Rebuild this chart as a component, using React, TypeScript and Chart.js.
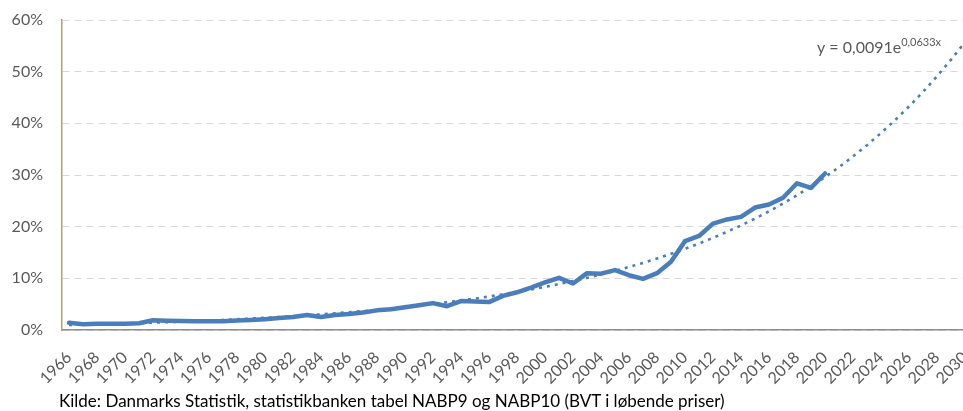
import React, { useEffect, useRef } from "react";
import { Chart, registerables } from "chart.js";

Chart.register(...registerables);

const years = [
  "1966", "1967", "1968", "1969", "1970", "1971", "1972", "1973", "1974", "1975",
  "1976", "1977", "1978", "1979", "1980", "1981", "1982", "1983", "1984", "1985",
  "1986", "1987", "1988", "1989", "1990", "1991", "1992", "1993", "1994", "1995",
  "1996", "1997", "1998", "1999", "2000", "2001", "2002", "2003", "2004", "2005",
  "2006", "2007", "2008", "2009", "2010", "2011", "2012", "2013", "2014", "2015",
  "2016", "2017", "2018", "2019", "2020", "2021", "2022", "2023", "2024", "2025",
  "2026", "2027", "2028", "2029", "2030",
];

// Andel (%) 1966-2020
const shareValues = [
  1.4, 1.1, 1.2, 1.2, 1.2, 1.3, 1.9, 1.8, 1.75, 1.7,
  1.7, 1.7, 1.85, 1.95, 2.1, 2.3, 2.5, 2.9, 2.5, 2.9,
  3.1, 3.4, 3.8, 4.0, 4.4, 4.8, 5.2, 4.6, 5.6, 5.5,
  5.4, 6.6, 7.3, 8.2, 9.2, 10.1, 9.0, 11.0, 10.9, 11.6,
  10.6, 9.9, 11.0, 13.2, 17.2, 18.2, 20.6, 21.4, 21.9, 23.7,
  24.3, 25.6, 28.4, 27.5, 30.3,
];

// Eksponentiel trendlinje (%) 1966-2030
const trendValues = [
  0.97, 1.03, 1.1, 1.17, 1.25, 1.33, 1.42, 1.51, 1.61, 1.71,
  1.83, 1.95, 2.07, 2.21, 2.35, 2.51, 2.67, 2.84, 3.03, 3.23,
  3.44, 3.66, 3.9, 4.16, 4.43, 4.72, 5.03, 5.36, 5.71, 6.08,
  6.48, 6.9, 7.35, 7.83, 8.34, 8.89, 9.47, 10.09, 10.74, 11.45,
  12.2, 12.99, 13.84, 14.75, 15.71, 16.74, 17.83, 19.0, 20.24, 21.56,
  22.97, 24.47, 26.07, 27.78, 29.59, 31.52, 33.59, 35.78, 38.12, 40.61,
  43.26, 46.09, 49.11, 52.32, 55.73,
];

const yTicks = [0, 10, 20, 30, 40, 50, 60];

const equationMain = "y = 0,0091e";
const equationSup = "0,0633x";
const caption =
  "Kilde: Danmarks Statistik, statistikbanken tabel NABP9 og NABP10 (BVT i løbende priser)";

const BLUE = "#4a7ebb";

const equationPlugin = {
  id: "equation",
  afterDraw(chart: any) {
    const { ctx, chartArea } = chart;
    ctx.save();
    ctx.fillStyle = "#595959";
    ctx.textBaseline = "alphabetic";
    ctx.textAlign = "left";
    ctx.font = "16px Lato";
    const x = chartArea.left + 755;
    const y = chartArea.top + 33;
    ctx.fillText(equationMain, x, y);
    const w = ctx.measureText(equationMain).width;
    ctx.font = "11px Lato";
    ctx.fillText(equationSup, x + w, y - 7);
    ctx.restore();
  },
};

export default function App() {
  const ref = useRef<HTMLCanvasElement>(null);
  useEffect(() => {
    Chart.defaults.font.family = "Lato";
    const chart = new Chart(ref.current!, {
      type: "line",
      data: {
        labels: years,
        datasets: [
          {
            label: "Trend",
            data: trendValues,
            borderColor: BLUE,
            borderWidth: 2.6,
            borderDash: [3, 5],
            pointRadius: 0,
            fill: false,
            tension: 0,
            order: 0,
          },
          {
            label: "Andel",
            data: shareValues,
            borderColor: BLUE,
            borderWidth: 4.5,
            borderJoinStyle: "round",
            borderCapStyle: "round",
            pointRadius: 0,
            fill: false,
            tension: 0,
            order: 1,
          },
        ],
      },
      options: {
        responsive: false,
        animation: false,
        layout: { padding: { top: 20, left: 0, right: 0, bottom: 0 } },
        plugins: {
          legend: { display: false },
          tooltip: { enabled: false },
        },
        scales: {
          x: {
            type: "category",
            offset: true,
            grid: { display: false, drawTicks: false },
            border: { color: "#8c8c8c", width: 1.5 },
            ticks: {
              autoSkip: false,
              minRotation: 45,
              maxRotation: 45,
              padding: 18,
              color: "#595959",
              font: { family: "Lato", size: 16 },
              callback: (_v: any, i: number) => (i % 2 === 0 ? years[i] : ""),
            },
            afterFit: (s: any) => {
              s.height = 81;
              s.paddingLeft = 0;
              s.paddingRight = 0;
            },
          },
          y: {
            min: 0,
            max: 60,
            afterBuildTicks: (s: any) => {
              s.ticks = yTicks.map((v) => ({ value: v }));
            },
            ticks: {
              padding: 19,
              color: "#595959",
              font: { family: "Lato", size: 16 },
              callback: (v: any) => v + "%",
            },
            grid: { color: "#d9d9d9", lineWidth: 1, drawTicks: false },
            border: { color: "#b0a278", width: 1.5, dash: [7, 5] },
            afterFit: (s: any) => {
              s.width = 62;
              s.paddingTop = 0;
              s.paddingBottom = 0;
            },
          },
        },
      },
      plugins: [equationPlugin],
    });
    return () => chart.destroy();
  }, []);

  return (
    <div
      style={{
        position: "absolute",
        left: 0,
        top: 0,
        width: 963,
        height: 411,
        overflow: "hidden",
        background: "#fff",
      }}
    >
      <canvas
        ref={ref}
        width={972}
        height={411}
        style={{ position: "absolute", left: 0, top: 0, width: 972, height: 411 }}
      />
      <div
        style={{
          position: "absolute",
          left: 59,
          top: 391,
          fontFamily: "Lato",
          fontSize: 17,
          lineHeight: "20px",
          color: "#000",
          whiteSpace: "nowrap",
        }}
      >
        {caption}
      </div>
    </div>
  );
}
